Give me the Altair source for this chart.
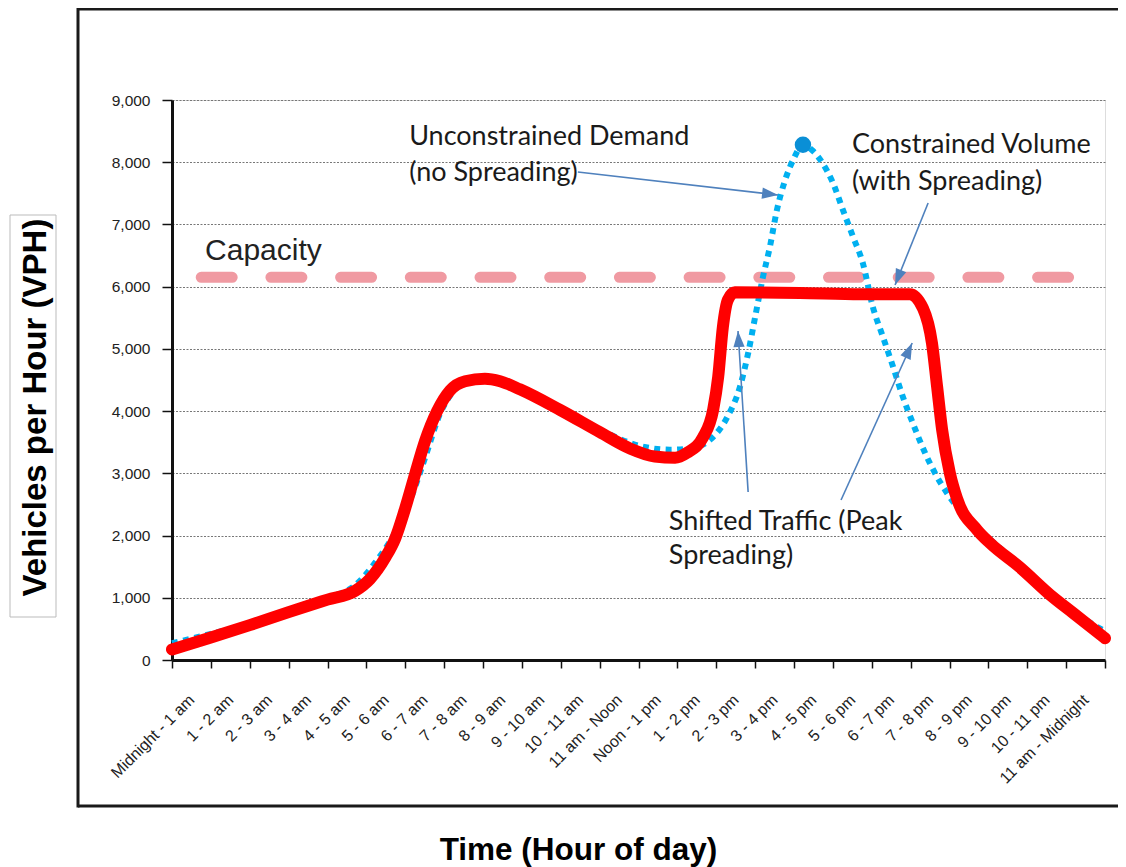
import json
import math
import altair as alt
import pandas as pd

# ---------------- data ----------------
hour_labels = ["Midnight - 1 am", "1 - 2 am", "2 - 3 am", "3 - 4 am", "4 - 5 am", "5 - 6 am",
               "6 - 7 am", "7 - 8 am", "8 - 9 am", "9 - 10 am", "10 - 11 am", "11 am - Noon",
               "Noon - 1 pm", "1 - 2 pm", "2 - 3 pm", "3 - 4 pm", "4 - 5 pm", "5 - 6 pm",
               "6 - 7 pm", "7 - 8 pm", "8 - 9 pm", "9 - 10 pm", "10 - 11 pm", "11 am - Midnight"]

# Constrained volume (with spreading) - red
red_h = [0.0, 1.0, 2.0, 3.0, 4.0, 4.71, 5.09, 5.48, 5.74, 5.99, 6.25, 6.51, 6.82, 7.15, 7.54,
         8.05, 8.44, 8.95, 9.98, 11.01, 11.78, 12.42, 12.94, 13.25, 13.66, 13.92, 14.05, 14.17,
         14.30, 14.48, 16.15, 17.70, 18.98, 19.32, 19.55, 19.68, 19.81, 20.01, 20.19, 20.71,
         21.04, 21.81, 22.66, 23.18, 24.0]
red_v = [170, 360, 560, 770, 970, 1110, 1300, 1640, 1950, 2420, 2980, 3520, 4000, 4330, 4480,
         4520, 4480, 4350, 4020, 3660, 3400, 3270, 3250, 3330, 3580, 4020, 4550, 5350,
         5790, 5910, 5900, 5880, 5880, 5650, 5090, 4400, 3700, 3000, 2600, 2090,
         1880, 1490, 1010, 755, 350]

# Unconstrained demand (no spreading) - blue dotted
blue_h = [0.0, 1.0, 2.0, 3.0, 4.0, 4.71, 5.22, 5.74, 6.12, 6.51, 6.89, 7.28, 7.67, 8.05, 8.95,
          9.98, 11.01, 12.04, 12.81, 13.32, 13.84, 14.28, 14.61, 14.82, 15.00, 15.20, 15.38,
          15.56, 15.77, 15.98, 16.23, 16.49, 16.72, 17.00, 17.26, 17.52, 17.77, 18.03, 18.29,
          18.55, 18.80, 19.06, 19.37, 19.63, 19.94, 20.27, 20.66, 21.04, 21.81, 22.59, 23.23, 24.0]
blue_v = [270, 420, 580, 790, 1000, 1200, 1560, 2050, 2560, 3250, 3950, 4350, 4500, 4530, 4370,
          4050, 3700, 3440, 3380, 3400, 3540, 3900, 4390, 4930, 5510, 6150, 6640,
          7230, 7710, 8040, 8280, 8180, 8000, 7670, 7230, 6800, 6380, 5670, 5190,
          4710, 4230, 3800, 3330, 3000, 2680, 2400, 2150, 1940, 1520, 1090, 760, 460]

peak_h = [16.23]
peak_v = [8280]

capacity_h = [0.0, 24.0]
capacity_v = [6150, 6150]

ann_h = [6.10, 6.10, 17.49, 17.49, 12.78, 12.78]
ann_v = [8277, 7698, 8148, 7554, 2089, 1543]
ann_text = ["Unconstrained Demand", "(no Spreading)", "Constrained Volume", "(with Spreading)",
            "Shifted Traffic (Peak", "Spreading)"]

cap_label_h = [0.85]
cap_label_v = [6429]
cap_label_text = ["Capacity"]

# arrows: start -> tip
arrow_h1 = [10.44, 19.45, 14.82, 17.21]
arrow_v1 = [7843, 7345, 2700, 2571]
arrow_h2 = [15.59, 18.60, 14.56, 19.04]
arrow_v2 = [7473, 6027, 5287, 5094]

# ---------------- layout ----------------
W, H = 933, 560
PX_H = W / 24.0
PX_V = H / 9000.0

x_scale = alt.Scale(domain=[0, 24], nice=False, zero=False)
y_scale = alt.Scale(domain=[0, 9000], nice=False)

label_expr = json.dumps(hour_labels) + "[datum.value] || ''"

x_axis = alt.Axis(values=list(range(25)), labelExpr=label_expr, labelAngle=-45,
                  labelAlign="right", labelBaseline="middle", labelOffset=19.4,
                  labelPadding=29, labelOverlap=False, labelBound=False, labelFlush=False,
                  labelFont="Liberation Sans", labelFontSize=16, labelColor="#222222",
                  tickSize=8, tickWidth=1.5, tickColor="#111111",
                  domainColor="#111111", domainWidth=3, grid=False,
                  title="Time (Hour of day)", titleFont="Liberation Sans", titleFontSize=31.5,
                  titleFontWeight="bold", titleColor="#000000", titleX=406, titleY=199,
                  titleAlign="center", titleBaseline="alphabetic", titleAnchor="start")

y_axis = alt.Axis(values=list(range(0, 9001, 1000)), format=",.0f",
                  labelFont="Liberation Sans", labelFontSize=15.5, labelColor="#222222",
                  labelPadding=12, tickSize=10, tickWidth=1.5, tickColor="#111111",
                  domainColor="#111111", domainWidth=3,
                  grid=True, gridColor="#777777", gridDash=[2, 1.5], gridWidth=1,
                  title="Vehicles per Hour (VPH)", titleFont="Liberation Sans", titleFontSize=33,
                  titleFontWeight="bold", titleColor="#000000", titleAngle=270,
                  titleX=-137, titleY=307, titleAlign="center", titleBaseline="middle",
                  titleAnchor="start")


def X(field):
    return alt.X(field, type="quantitative", scale=x_scale, axis=x_axis)


def Y(field):
    return alt.Y(field, type="quantitative", scale=y_scale, axis=y_axis)


red_df = pd.DataFrame({"h": red_h, "v": red_v})
blue_df = pd.DataFrame({"h": blue_h, "v": blue_v})
peak_df = pd.DataFrame({"h": peak_h, "v": peak_v})
cap_df = pd.DataFrame({"h": capacity_h, "v": capacity_v})
ann_df = pd.DataFrame({"h": ann_h, "v": ann_v, "t": ann_text})
cap_lab_df = pd.DataFrame({"h": cap_label_h, "v": cap_label_v, "t": cap_label_text})

angles = []
for a, b, c, d in zip(arrow_h1, arrow_v1, arrow_h2, arrow_v2):
    dx = (c - a) * PX_H
    dy = -(d - b) * PX_V
    ang = math.degrees(math.atan2(dx, -dy)) % 360
    angles.append(ang)
arrow_df = pd.DataFrame({"h": arrow_h1, "v": arrow_v1, "h2": arrow_h2, "v2": arrow_v2, "ang": angles})

capacity = alt.Chart(cap_df).mark_line(
    color="#f09aa2", strokeWidth=11, strokeCap="round", strokeDash=[31, 38.7], strokeDashOffset=40.5
).encode(x=X("h"), y=Y("v"))

blue = alt.Chart(blue_df).mark_line(
    color="#00b0f0", strokeWidth=6, strokeDash=[6, 5.5], strokeCap="butt", interpolate="monotone"
).encode(x=X("h"), y=Y("v"))

red = alt.Chart(red_df).mark_line(
    color="#ff0000", strokeWidth=12, strokeCap="round", strokeJoin="round", interpolate="monotone"
).encode(x=X("h"), y=Y("v"))

peak = alt.Chart(peak_df).mark_point(
    shape="circle", filled=True, color="#0a8fd6", size=270, opacity=1
).encode(x=X("h"), y=Y("v"))

arrow_lines = alt.Chart(arrow_df).mark_rule(color="#4f81bd", strokeWidth=1.6).encode(
    x=X("h"), y=Y("v"), x2="h2", y2="v2")

arrow_heads = alt.Chart(arrow_df).mark_point(
    shape="M0,0 L-0.7,2 L0.7,2 Z", filled=True, color="#4f81bd", size=256, opacity=1
).encode(x=alt.X("h2", type="quantitative", scale=x_scale, axis=x_axis),
         y=alt.Y("v2", type="quantitative", scale=y_scale, axis=y_axis),
         angle=alt.Angle("ang:Q", scale=None))

ann = alt.Chart(ann_df).mark_text(
    align="left", baseline="alphabetic", font="Lato", fontSize=27, color="#1a1a1a"
).encode(x=X("h"), y=Y("v"), text="t:N")

cap_lab = alt.Chart(cap_lab_df).mark_text(
    align="left", baseline="alphabetic", font="Liberation Sans", fontSize=30, color="#222222"
).encode(x=X("h"), y=Y("v"), text="t:N")

# outer frame: top, left and bottom edges (runs past the right edge of the page)
frame_top = alt.Chart(alt.Data(values=[{"k": 1}])).mark_rule(
    color="#1a1a1a", strokeWidth=3
).encode(x=alt.value(-94), x2=alt.value(960), y=alt.value(-91))
frame_bottom = alt.Chart(alt.Data(values=[{"k": 1}])).mark_rule(
    color="#1a1a1a", strokeWidth=3
).encode(x=alt.value(-94), x2=alt.value(960), y=alt.value(706))
frame_left = alt.Chart(alt.Data(values=[{"k": 1}])).mark_rule(
    color="#1a1a1a", strokeWidth=3
).encode(x=alt.value(-94), y=alt.value(-92.5), y2=alt.value(707.5))

title_box = alt.Chart(alt.Data(values=[{"k": 1}])).mark_rect(
    filled=False, stroke="#bbbbbb", strokeWidth=1
).encode(x=alt.value(-162), x2=alt.value(-116), y=alt.value(115), y2=alt.value(517))

chart = alt.layer(
    capacity, blue, red, peak, arrow_lines, arrow_heads, ann, cap_lab,
    frame_top, frame_bottom, frame_left, title_box
).properties(
    width=W, height=H,
    autosize=alt.AutoSizeParams(type="none"),
    padding={"left": 164, "top": 92, "right": 13, "bottom": 215},
).configure_view(
    stroke="#333333", strokeWidth=2.5
).configure(background="white")

chart.save("out.html", embed_options={"renderer": "svg", "actions": False})
